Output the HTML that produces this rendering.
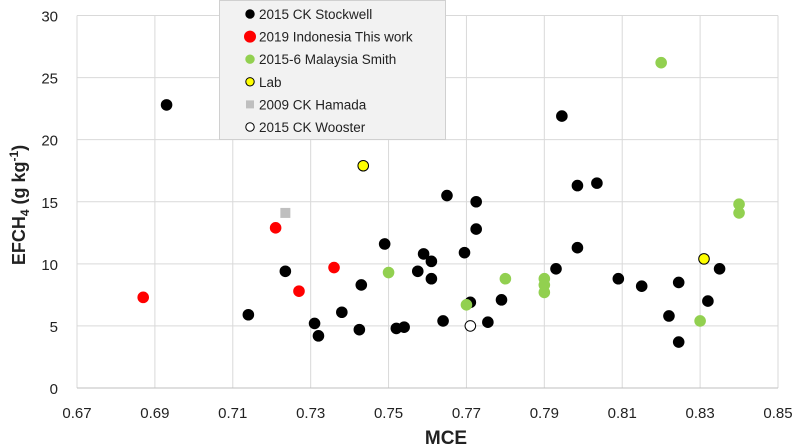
<!DOCTYPE html>
<html><head><meta charset="utf-8"><style>
body{margin:0;background:#fff}
svg{display:block;font-family:"Liberation Sans",sans-serif}
</style></head><body>
<svg id="chart" width="800" height="446" viewBox="0 0 800 446">
<g id="grid"></g>
<g id="axes"></g>
<g id="marks"></g>
<text x="446" y="444" font-size="19" font-weight="bold" text-anchor="middle" fill="#222">MCE</text>
<text transform="translate(25,205) rotate(-90)" font-size="18" font-weight="bold" text-anchor="middle" fill="#222">EFCH<tspan font-size="12" dy="4">4</tspan><tspan dy="-4"> (g kg</tspan><tspan font-size="12" dy="-7">-1</tspan><tspan dy="7">)</tspan></text>
<g id="legend">
<rect x="219.5" y="0.5" width="226" height="139" fill="#f2f2f2" stroke="#d0d0d0"/>
</g>
</svg>
<script>
const xTicks=[0.67,0.69,0.71,0.73,0.75,0.77,0.79,0.81,0.83,0.85];
const yTicks=[0,5,10,15,20,25,30];
const stockwellX=[0.693,0.714,0.7235,0.731,0.732,0.738,0.7425,0.743,0.749,0.752,0.754,0.7575,0.759,0.761,0.761,0.764,0.765,0.7695,0.771,0.7725,0.7725,0.7755,0.779,0.793,0.7945,0.7985,0.7985,0.8035,0.809,0.815,0.822,0.8245,0.8245,0.832,0.835];
const stockwellY=[22.8,5.9,9.4,5.2,4.2,6.1,4.7,8.3,11.6,4.8,4.9,9.4,10.8,10.2,8.8,5.4,15.5,10.9,6.9,15.0,12.8,5.3,7.1,9.6,21.9,16.3,11.3,16.5,8.8,8.2,5.8,8.5,3.7,7.0,9.6];
const indonesiaX=[0.687,0.721,0.727,0.736];
const indonesiaY=[7.3,12.9,7.8,9.7];
const malaysiaX=[0.75,0.77,0.78,0.79,0.79,0.79,0.82,0.83,0.84,0.84];
const malaysiaY=[9.3,6.7,8.8,8.8,8.3,7.7,26.2,5.4,14.8,14.1];
const labX=[0.7435,0.831];
const labY=[17.9,10.4];
const hamadaX=[0.7235];
const hamadaY=[14.1];
const woosterX=[0.771];
const woosterY=[5.0];
const legendLabels=["2015 CK Stockwell","2019 Indonesia This work","2015-6 Malaysia Smith","Lab","2009 CK Hamada","2015 CK Wooster"];

const NS="http://www.w3.org/2000/svg";
const X0=77,X1=778,Y0=388,Y1=15.5;
const sx=v=>X0+(v-0.67)/(0.85-0.67)*(X1-X0);
const sy=v=>Y0-v/30*(Y0-Y1);
function mk(tag,attrs,parent){const e=document.createElementNS(NS,tag);for(const k in attrs)e.setAttribute(k,attrs[k]);parent.appendChild(e);return e;}
const grid=document.getElementById('grid'),axes=document.getElementById('axes'),marks=document.getElementById('marks'),legend=document.getElementById('legend');
xTicks.forEach(t=>{
  const l=mk('line',{x1:sx(t),x2:sx(t),y1:Y1,y2:Y0,stroke:'#d9d9d9','stroke-width':1},grid);
  
  
  const tx=mk('text',{x:sx(t),y:418,'font-size':15,'text-anchor':'middle',fill:'#222'},axes);
  tx.textContent=t.toFixed(2);
  
  
});
yTicks.forEach(t=>{
  const l=mk('line',{x1:X0,x2:X1,y1:sy(t),y2:sy(t),stroke:t===0?'#bfbfbf':'#d9d9d9','stroke-width':1},grid);
  
  
  const tx=mk('text',{x:58,y:sy(t)+6,'font-size':15,'text-anchor':'end',fill:'#222'},axes);
  tx.textContent=t;
  
  
});
function dots(xs,ys,fill,stroke,name){
  xs.forEach((x,i)=>{
    const c=mk('circle',{cx:sx(x),cy:sy(ys[i]),r:5.3,fill:fill,stroke:stroke,'stroke-width':1},marks);
    
    
  });
}
dots(stockwellX,stockwellY,'#000','#000','stockwell-point');
dots(indonesiaX,indonesiaY,'#ff0000','#ff0000','indonesia-point');
dots(malaysiaX,malaysiaY,'#92d050','#92d050','malaysia-point');
dots(labX,labY,'#ffff00','#000','lab-point');
hamadaX.forEach((x,i)=>{
  const r=mk('rect',{x:sx(x)-5,y:sy(hamadaY[i])-5,width:10,height:10,fill:'#bfbfbf'},marks);
  
  
});
dots(woosterX,woosterY,'#fff','#000','wooster-point');
const lf=[['#000','#000'],['#ff0000','#ff0000'],['#92d050','#92d050'],['#ffff00','#000'],['sq','#bfbfbf'],['#fff','#000']];
legendLabels.forEach((lab,i)=>{
  const y=14+i*22.6;
  let m;
  if(lf[i][0]==='sq') m=mk('rect',{x:246,y:y-4,width:8,height:8,fill:'#bfbfbf'},legend);
  else m=mk('circle',{cx:250,cy:y,r:i===1?5.5:4.2,fill:lf[i][0],stroke:lf[i][1],'stroke-width':1},legend);
  
  
  const t=mk('text',{x:259,y:y+5,'font-size':13.5,fill:'#222'},legend);
  t.textContent=lab;
  
  
});
</script>
</body></html>
